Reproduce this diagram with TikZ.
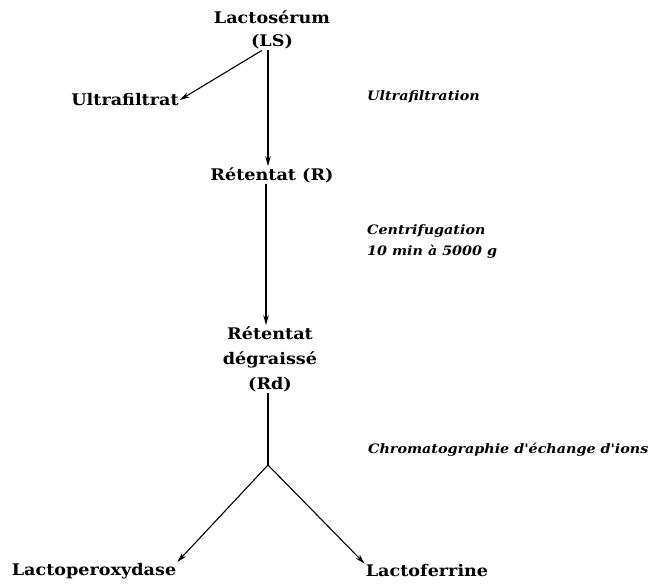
\documentclass[tikz,border=0pt]{standalone}
\usepackage{fontspec}
\setmainfont{DejaVu Serif}
\newfontfamily\labfont[FakeStretch=1.1]{DejaVu Serif}
\newfontfamily\procfont[FakeStretch=1.1]{DejaVu Serif}
\usetikzlibrary{arrows.meta}
\begin{document}
\begin{tikzpicture}[x=1pt,y=-1pt,
  lab/.style={font=\labfont\fontsize{16}{23}\selectfont\bfseries, inner sep=1pt, align=center},
  proc/.style={font=\procfont\fontsize{13}{21}\selectfont\bfseries\itshape, inner sep=0pt, align=left, anchor=west},
  arr/.style={line width=1.1pt, -{Stealth[length=10pt,width=5.5pt]}},
  ln/.style={line width=1.1pt}]
\useasboundingbox (0,0) rectangle (655,586);
\node[lab] (ls) at (272,30) {Lactosérum\\(LS)};
\node[lab] (uf) at (125,100) {Ultrafiltrat};
\node[lab] (r) at (272,175) {Rétentat (R)};
\node[lab, font=\labfont\fontsize{16}{25}\selectfont\bfseries] (rd) at (270,359) {Rétentat\\dégraissé\\(Rd)};
\coordinate (j) at (268,465);
\node[lab] (lp) at (94,571) {Lactoperoxydase};
\node[lab] (lf) at (427,571) {Lactoferrine};
\node[proc] (p1) at (367,97) {Ultrafiltration};
\node[proc] (p2) at (367,242) {Centrifugation\\10 min à 5000 g};
\node[proc] (p3) at (368,450) {Chromatographie d'échange d'ions};
\draw[arr] ([xshift=-10pt]ls.south) -- (uf.east);
\draw[arr] (ls.south -| 268,0) -- (r.north -| 268,0);
\draw[arr] (r.south -| 266,0) -- (rd.north -| 266,0);
\draw[ln] (rd.south -| 268,0) -- (j);
\draw[arr] (j) -- (lp.north east);
\draw[arr] (j) -- (lf.north west);
\end{tikzpicture}
\end{document}
